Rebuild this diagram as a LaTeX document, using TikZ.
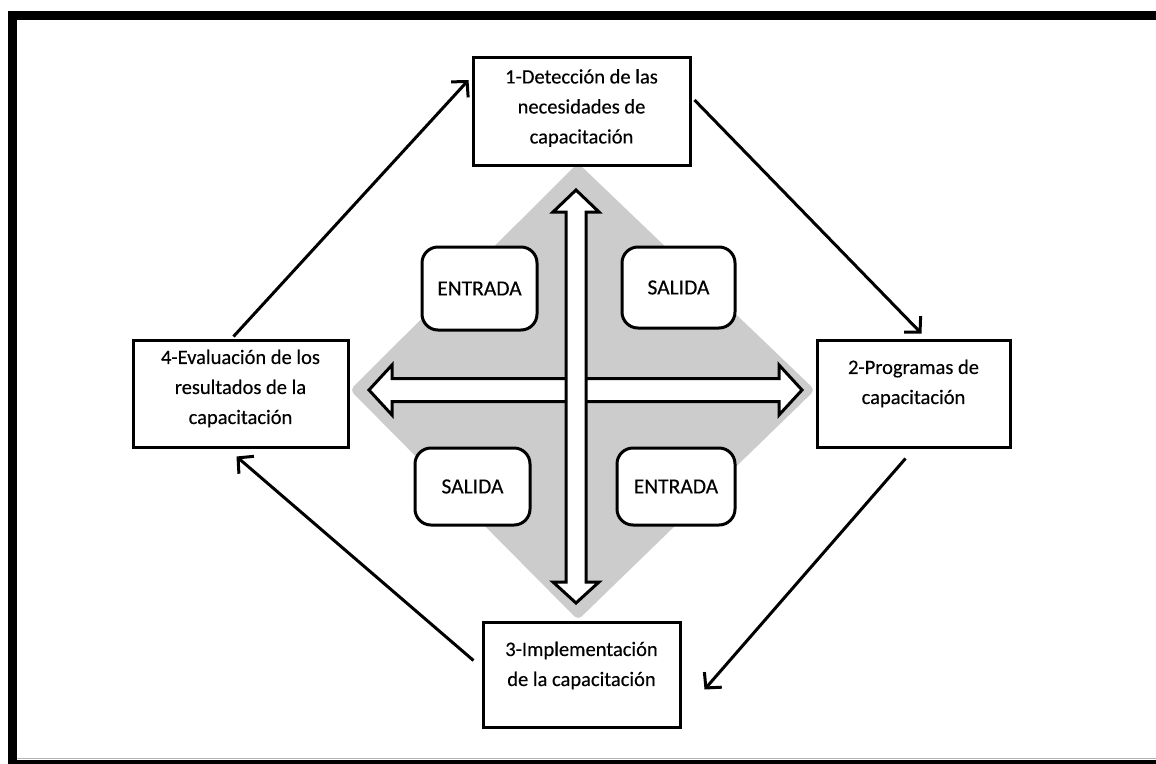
\documentclass[tikz,border=0pt]{standalone}
\usepackage{fontspec}
\setmainfont{Carlito}[FakeBold=0.3]
\usetikzlibrary{arrows.meta}
\begin{document}
\begin{tikzpicture}[x=1pt,y=-1pt,
  etapa/.style={draw=black, line width=3pt, fill=white, inner sep=0pt},
  texto/.style={align=center, inner sep=0pt, font=\fontsize{20.5}{30}\selectfont},
  flujo/.style={draw=black, line width=3pt, fill=white, rounded corners=16pt, align=center,
    inner sep=0pt, font=\fontsize{21.5}{30}\selectfont},
  ciclo/.style={line width=3pt, -{Straight Barb[length=11pt,width=23pt]}}]
\useasboundingbox (0,0) rectangle (1156,763);
\clip (0,0) rectangle (1156,763);
\draw[line width=9pt] (12.5,15.5) rectangle (1170,764.5);
\draw[line width=1.5pt, color=gray!60] (17,758.5) -- (1156,758.5);
\fill[color=gray!40, rounded corners=5pt] (578,163) -- (815,390) -- (578,620) -- (350,390) -- cycle;
\draw[line width=3pt, fill=white, line join=miter] (369,390) -- (392,365) -- (392,378.5) -- (779,378.5)
  -- (779,365) -- (802,390) -- (779,415) -- (779,401.5) -- (392,401.5) -- (392,415) -- cycle;
\draw[line width=3pt, fill=white, line join=miter] (576,190) -- (599,212) -- (586,212) -- (586,582)
  -- (599,582) -- (576,603) -- (553,582) -- (566,582) -- (566,212) -- (553,212) -- cycle;
\node[flujo, minimum width=115pt, minimum height=83pt] (e1) at (479.5,288.5) {ENTRADA};
\node[flujo, minimum width=113pt, minimum height=81pt] (s1) at (678.5,287.5) {SALIDA};
\node[flujo, minimum width=115pt, minimum height=77pt] (s2) at (472.5,486.5) {SALIDA};
\node[flujo, minimum width=118pt, minimum height=77pt] (e2) at (676,486.5) {ENTRADA};
% etapas del ciclo
\node[etapa, minimum width=217pt, minimum height=108pt] (b1) at (581.5,111) {};
\node[etapa, minimum width=193pt, minimum height=107pt] (b2) at (913.5,393.5) {};
\node[etapa, minimum width=197pt, minimum height=105pt] (b3) at (581.5,674.5) {};
\node[etapa, minimum width=215pt, minimum height=107pt] (b4) at (240.5,393.5) {};
\node[texto] (t1) at ([yshift=3pt]b1.center) {1-Detección de las\\necesidades de\\capacitación};
\node[texto] (t2) at ([yshift=10pt]b2.center) {2-Programas de\\capacitación};
\node[texto] (t3) at ([yshift=9pt]b3.center) {3-Implementación\\de la capacitación};
\node[texto] (t4) at ([yshift=5pt]b4.center) {4-Evaluación de los\\resultados de la\\capacitación};
\draw[ciclo] ([xshift=-7pt,yshift=2pt]b4.north) -- ([xshift=-3pt,yshift=31pt]b1.west);
\draw[ciclo] ([xshift=3pt,yshift=11pt]b1.east) -- ([xshift=8pt,yshift=5pt]b2.north);
\draw[ciclo] ([xshift=-8pt,yshift=-10pt]b2.south) -- ([xshift=23pt,yshift=-15pt]b3.east);
\draw[ciclo] ([xshift=-8pt,yshift=14pt]b3.west) -- ([xshift=-4pt,yshift=-8pt]b4.south);
\end{tikzpicture}
\end{document}
